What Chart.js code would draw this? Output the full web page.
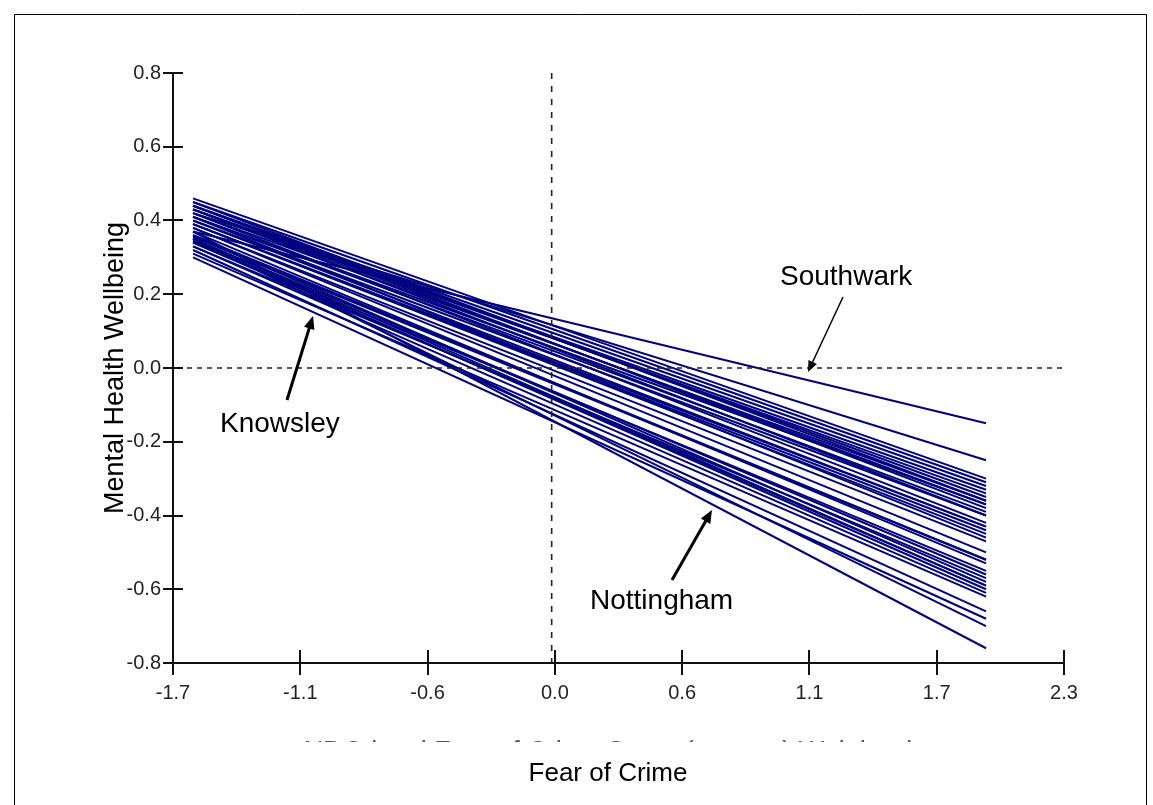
<!DOCTYPE html>
<html>
<head>
<meta charset="utf-8">
<script src="https://cdn.jsdelivr.net/npm/chart.js@4.4.1/dist/chart.umd.min.js"></script>
<style>
  html, body { margin: 0; padding: 0; background: #ffffff; }
  #wrap { position: relative; width: 1153px; height: 805px; }
</style>
</head>
<body>
<div id="wrap"><canvas id="c" width="1153" height="805"></canvas></div>
<script>
// ---- data ----
const xTickLabels = ['-1.7', '-1.1', '-0.6', '0.0', '0.6', '1.1', '1.7', '2.3'];
const yTickValues = [-0.8, -0.6, -0.4, -0.2, 0.0, 0.2, 0.4, 0.6, 0.8];
const lineStartX = -1.61;
const lineEndX = 1.95;
// y value of each area line at its left end and at its right end
const startY = [0.37, 0.42, 0.46, 0.45, 0.44, 0.43, 0.44, 0.42, 0.43, 0.41, 0.40, 0.42, 0.40, 0.39, 0.41, 0.38, 0.36,
                0.37, 0.35, 0.36, 0.34, 0.33, 0.32, 0.30, 0.35, 0.37, 0.45, 0.43, 0.39, 0.34, 0.33, 0.31, 0.44, 0.38,
                0.43, 0.41, 0.39, 0.355, 0.345, 0.35];
const endY   = [-0.15, -0.25, -0.30, -0.31, -0.32, -0.33, -0.35, -0.36, -0.37, -0.39, -0.40, -0.42, -0.43, -0.45, -0.46, -0.47, -0.52,
                -0.53, -0.56, -0.58, -0.59, -0.61, -0.66, -0.68, -0.70, -0.76, -0.36, -0.40, -0.44, -0.55, -0.57, -0.62, -0.38, -0.50,
                -0.34, -0.37, -0.43, -0.52, -0.60, -0.59];
const annotationNames = ['Southwark', 'Knowsley', 'Nottingham'];
const xTitle = 'Fear of Crime';
const yTitle = 'Mental Health Wellbeing';
const hiddenTitle = 'NDC-level Fear of Crime Score (z-score) Weighted';

const datasets = startY.map((s, i) => ({
  data: [{ x: lineStartX, y: s }, { x: lineEndX, y: endY[i] }],
  borderColor: '#000080',
  borderWidth: 2,
  pointRadius: 0,
  fill: false
}));

function arrow(ctx, x1, y1, x2, y2, w, head) {
  const a = Math.atan2(y2 - y1, x2 - x1);
  ctx.save();
  ctx.strokeStyle = '#000';
  ctx.fillStyle = '#000';
  ctx.lineWidth = w;
  ctx.beginPath();
  ctx.moveTo(x1, y1);
  ctx.lineTo(x2 - Math.cos(a) * head * 0.8, y2 - Math.sin(a) * head * 0.8);
  ctx.stroke();
  ctx.beginPath();
  ctx.moveTo(x2, y2);
  ctx.lineTo(x2 - head * Math.cos(a - 0.4), y2 - head * Math.sin(a - 0.4));
  ctx.lineTo(x2 - head * Math.cos(a + 0.4), y2 - head * Math.sin(a + 0.4));
  ctx.closePath();
  ctx.fill();
  ctx.restore();
}

const overlay = {
  id: 'overlay',
  afterDatasetsDraw(chart) {
    const ctx = chart.ctx;
    const xs = chart.scales.x, ys = chart.scales.y;
    const ca = chart.chartArea;
    ctx.save();
    ctx.strokeStyle = '#222';
    ctx.lineWidth = 1.6;
    ctx.setLineDash([5, 5]);
    const y0 = ys.getPixelForValue(0);
    ctx.beginPath(); ctx.moveTo(ca.left + 4, y0); ctx.lineTo(ca.right, y0); ctx.stroke();
    ctx.setLineDash([6, 7]);
    const x0 = xs.getPixelForValue(0);
    ctx.beginPath(); ctx.moveTo(x0, ca.top); ctx.lineTo(x0, ca.bottom); ctx.stroke();
    ctx.restore();
  },
  afterDraw(chart) {
    const ctx = chart.ctx;
    const xs = chart.scales.x, ys = chart.scales.y;
    const ca = chart.chartArea;
    ctx.save();
    ctx.strokeStyle = '#111';
    ctx.lineWidth = 2;
    xs.ticks.forEach(t => {
      const p = Math.round(xs.getPixelForValue(t.value));
      ctx.beginPath(); ctx.moveTo(p, ca.bottom - 13); ctx.lineTo(p, ca.bottom + 12); ctx.stroke();
    });
    ys.ticks.forEach(t => {
      const p = Math.round(ys.getPixelForValue(t.value));
      ctx.beginPath(); ctx.moveTo(ca.left - 10, p); ctx.lineTo(ca.left + 10, p); ctx.stroke();
    });
    ctx.strokeStyle = '#000';
    ctx.lineWidth = 1;
    ctx.beginPath();
    ctx.moveTo(14.5, 805); ctx.lineTo(14.5, 14.5); ctx.lineTo(1146.5, 14.5); ctx.lineTo(1146.5, 805);
    ctx.stroke();

    ctx.fillStyle = '#000';
    ctx.textBaseline = 'alphabetic';
    ctx.textAlign = 'center';
    ctx.font = '27px "Liberation Sans", Arial, sans-serif';
    ctx.save();
    ctx.translate(123, (ca.top + ca.bottom) / 2);
    ctx.rotate(-Math.PI / 2);
    ctx.fillText(yTitle, 0, 0);
    ctx.restore();
    ctx.font = '26px "Liberation Sans", Arial, sans-serif';
    ctx.fillText(xTitle, 608, 781);

    ctx.save();
    ctx.beginPath();
    ctx.rect(240, 730, 720, 12);
    ctx.clip();
    ctx.fillStyle = '#555';
    ctx.font = '27px "Liberation Sans", Arial, sans-serif';
    ctx.fillText(hiddenTitle, 608, 760);
    ctx.restore();

    ctx.textAlign = 'left';
    ctx.font = '28px "Liberation Sans", Arial, sans-serif';
    ctx.fillText(annotationNames[0], 780, 285);
    ctx.fillText(annotationNames[1], 220, 432);
    ctx.fillText(annotationNames[2], 590, 609);
    arrow(ctx, 843, 297, 808, 372, 1.5, 12);
    arrow(ctx, 287, 400, 313, 316, 3, 14);
    arrow(ctx, 672, 580, 712, 510, 3, 14);
    ctx.restore();
  }
};

const tickFont = { family: '"Liberation Sans Narrow", "Liberation Sans", Arial, sans-serif', size: 20 };

new Chart(document.getElementById('c'), {
  type: 'line',
  data: { datasets },
  options: {
    responsive: false,
    animation: false,
    events: [],
    layout: { padding: { left: 0, top: 73, right: 89, bottom: 0 } },
    plugins: { legend: { display: false }, tooltip: { enabled: false }, title: { display: false } },
    scales: {
      x: {
        type: 'linear',
        min: -1.7,
        max: 2.3,
        afterBuildTicks(scale) {
          scale.ticks = xTickLabels.map((l, i) => ({ value: -1.7 + i * 4 / 7 }));
        },
        afterFit(scale) { scale.height = 142; },
        grid: { display: false, drawTicks: false },
        border: { display: true, color: '#111', width: 2 },
        ticks: {
          autoSkip: false,
          maxRotation: 0,
          padding: 18,
          color: '#222',
          font: tickFont,
          callback: (v, i) => xTickLabels[i]
        }
      },
      y: {
        type: 'linear',
        min: -0.8,
        max: 0.8,
        afterBuildTicks(scale) {
          scale.ticks = yTickValues.map(v => ({ value: v }));
        },
        afterFit(scale) { scale.width = 173; },
        grid: { display: false, drawTicks: false },
        border: { display: true, color: '#111', width: 2 },
        ticks: {
          padding: 12,
          color: '#222',
          font: tickFont,
          callback: v => (Math.abs(v) < 1e-9 ? 0 : v).toFixed(1)
        }
      }
    }
  },
  plugins: [overlay]
});
</script>
</body>
</html>
